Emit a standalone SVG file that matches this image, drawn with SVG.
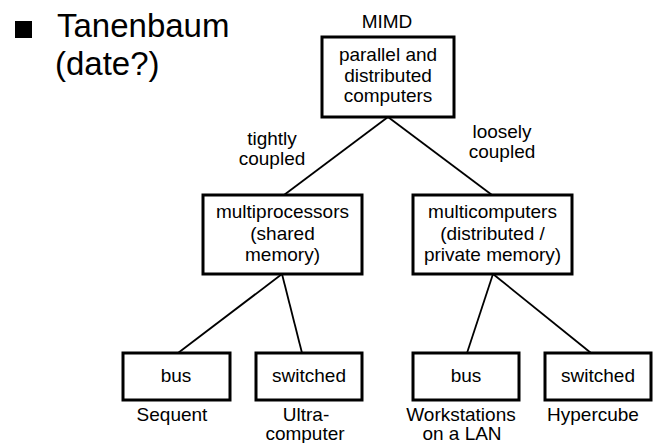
<svg xmlns="http://www.w3.org/2000/svg" width="658" height="443" viewBox="0 0 658 443">
<style>
text{font-family:"Liberation Sans",Arial,sans-serif;fill:#000}
.t{font-size:19px;text-anchor:middle}
.h{font-size:33px}
.box{fill:#fff;stroke:#000;stroke-width:3}
.ln{stroke:#000;stroke-width:1.8;fill:none}
</style>
<rect width="658" height="443" fill="#fff"/>
<g id="title">
<rect x="15" y="21" width="17" height="17" fill="#000"/>
<text class="h" x="57" y="37">Tanenbaum</text>
<text class="h" x="55" y="75">(date?)</text>
</g>
<g id="connectors">
<line class="ln" x1="388" y1="117" x2="284" y2="195"/>
<line class="ln" x1="388" y1="117" x2="492" y2="195"/>
<line class="ln" x1="282" y1="274" x2="178" y2="353"/>
<line class="ln" x1="282" y1="274" x2="302" y2="353"/>
<line class="ln" x1="493" y1="274" x2="467" y2="353"/>
<line class="ln" x1="493" y1="274" x2="591" y2="353"/>
<text class="t" x="272" y="145">tightly</text>
<text class="t" x="272" y="165">coupled</text>
<text class="t" x="502" y="138">loosely</text>
<text class="t" x="502" y="158">coupled</text>
</g>
<g id="root">
<text class="t" x="387" y="28">MIMD</text>
<rect class="box" x="322" y="37" width="132" height="80"/>
<text class="t" x="388" y="61">parallel and</text>
<text class="t" x="388" y="82">distributed</text>
<text class="t" x="388" y="102">computers</text>
</g>
<g id="multiprocessors">
<rect class="box" x="203" y="195" width="159" height="79"/>
<text class="t" x="282.5" y="218">multiprocessors</text>
<text class="t" x="282.5" y="239.5">(shared</text>
<text class="t" x="282.5" y="261">memory)</text>
</g>
<g id="multicomputers">
<rect class="box" x="413" y="195" width="159" height="79"/>
<text class="t" x="492.5" y="218">multicomputers</text>
<text class="t" x="492.5" y="239.5">(distributed /</text>
<text class="t" x="492.5" y="261">private memory)</text>
</g>
<g id="bus1">
<rect class="box" x="123" y="353" width="107" height="47"/>
<text class="t" x="176" y="382">bus</text>
<text class="t" x="172" y="421">Sequent</text>
</g>
<g id="switched1">
<rect class="box" x="256" y="353" width="106" height="47"/>
<text class="t" x="309" y="382">switched</text>
<text class="t" x="306" y="421">Ultra-</text>
<text class="t" x="305" y="440">computer</text>
</g>
<g id="bus2">
<rect class="box" x="413" y="353" width="106" height="47"/>
<text class="t" x="466" y="382">bus</text>
<text class="t" x="461" y="421">Workstations</text>
<text class="t" x="462" y="440">on a LAN</text>
</g>
<g id="switched2">
<rect class="box" x="545" y="353" width="106" height="47"/>
<text class="t" x="598" y="382">switched</text>
<text class="t" x="593" y="421">Hypercube</text>
</g>
</svg>
